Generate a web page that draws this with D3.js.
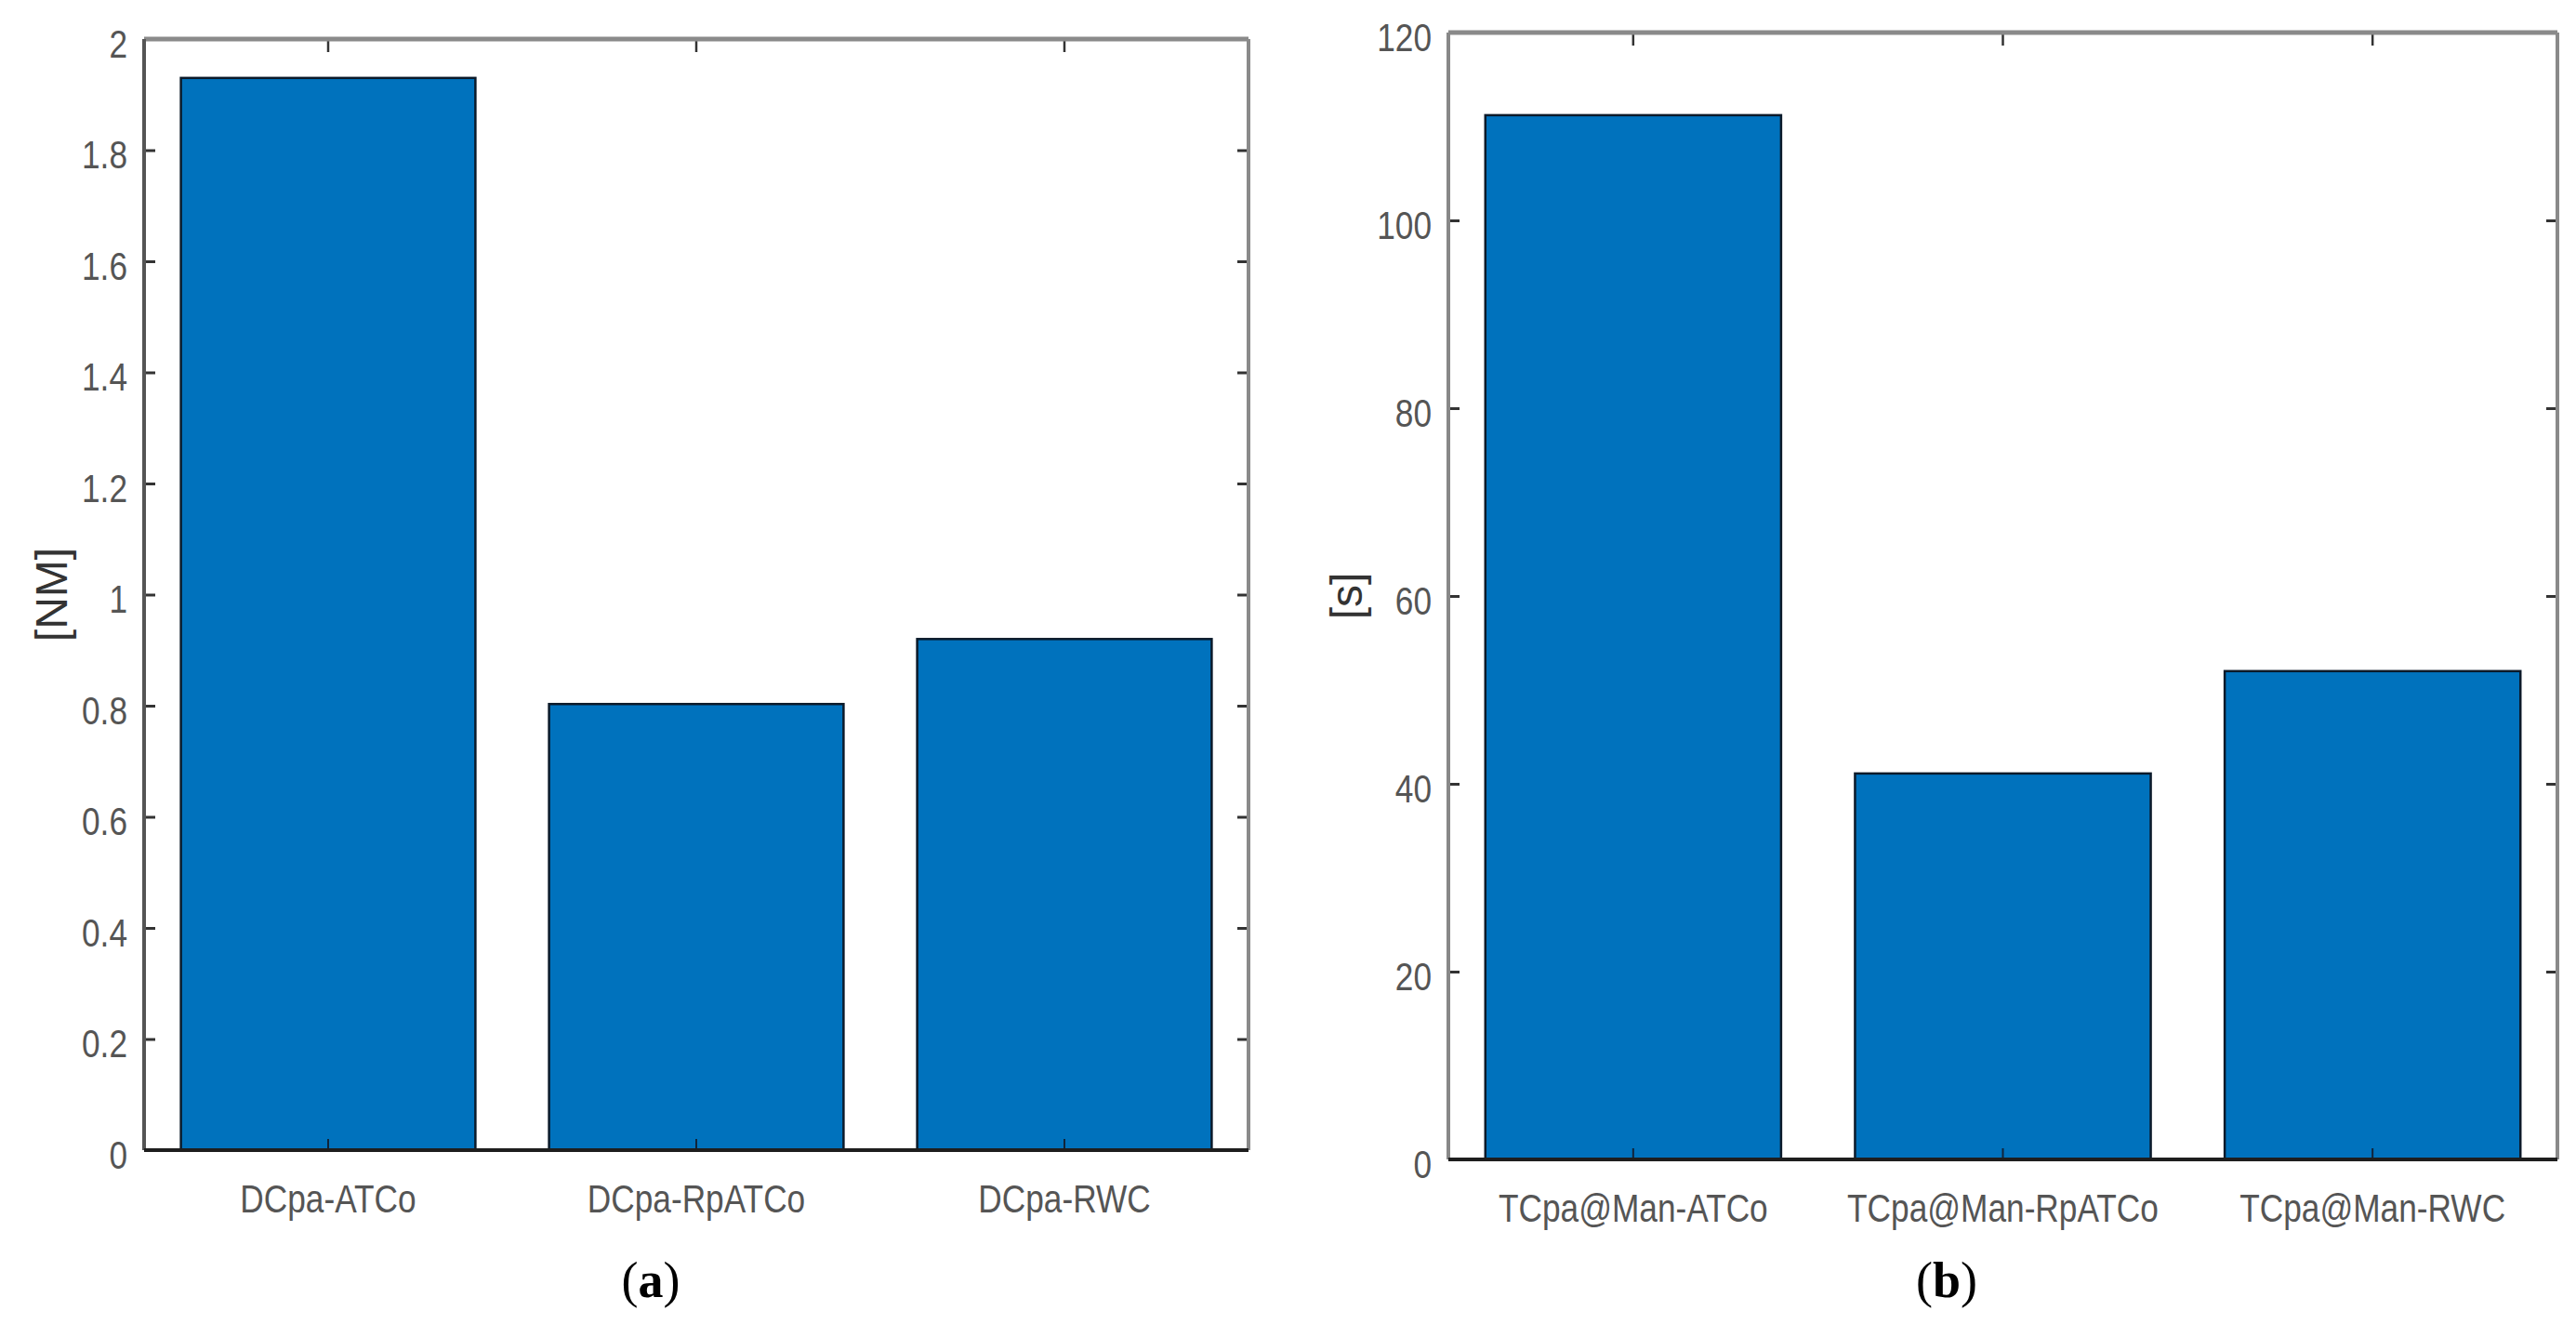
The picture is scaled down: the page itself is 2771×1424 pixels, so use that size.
<!DOCTYPE html>
<html>
<head>
<meta charset="utf-8">
<script src="https://cdn.jsdelivr.net/npm/d3@7"></script>
<style>
  body { margin: 0; background: #fff; }
  svg { display: block; }
  .tick text { font-family: "Liberation Sans", Arial, sans-serif; font-size: 43px; fill: #555; }
  .ylabel { font-family: "Liberation Sans", Arial, sans-serif; font-size: 48px; fill: #333; }
  .caption { font-family: "Liberation Serif", "Times New Roman", serif; font-size: 54px; fill: #000; }
</style>
</head>
<body>
<svg id="chart" width="2771" height="1424"></svg>
<script>
// panel (a): closest distance at CPA
var catsA = ["DCpa-ATCo", "DCpa-RpATCo", "DCpa-RWC"];
var valsA = [1.93, 0.803, 0.92];
var ticksA = [0, 0.2, 0.4, 0.6, 0.8, 1, 1.2, 1.4, 1.6, 1.8, 2];
var tickLabelsA = ["0", "0.2", "0.4", "0.6", "0.8", "1", "1.2", "1.4", "1.6", "1.8", "2"];

// panel (b): time to CPA at manoeuvre
var catsB = ["TCpa@Man-ATCo", "TCpa@Man-RpATCo", "TCpa@Man-RWC"];
var valsB = [111.2, 41.1, 52];
var ticksB = [0, 20, 40, 60, 80, 100, 120];
var tickLabelsB = ["0", "20", "40", "60", "80", "100", "120"];

var barColor = "#0072BD";
var squeeze = 0.82;   // no narrow font installed, squash the regular one
const svg = d3.select("#chart");

function drawPanel(cfg) {
    let g = svg.append("g").attr("class", "panel");

    let x = d3.scaleBand()
        .domain(cfg.cats)
        .range([cfg.x0, cfg.x1])
        .paddingInner(0.2)
        .paddingOuter(0.1);

    let y = d3.scaleLinear()
        .domain([0, cfg.ticks[cfg.ticks.length - 1]])
        .range([cfg.bottom, cfg.top]);

    let data = cfg.cats.map((c, i) => ({ name: c, value: cfg.vals[i] }));

    g.selectAll("rect.bar")
        .data(data)
        .enter()
        .append("rect")
        .attr("class", "bar")
        .attr("x", d => x(d.name))
        .attr("width", x.bandwidth())
        .attr("y", d => y(d.value))
        .attr("height", d => y(0) - y(d.value))
        .attr("fill", barColor)
        .attr("stroke", "#0b1a2a")
        .attr("stroke-width", 2.5);

    // left axis with inward ticks
    let left = d3.axisLeft(y)
        .tickValues(cfg.ticks)
        .tickFormat((d, i) => cfg.tickLabels[i])
        .tickSizeInner(-12)
        .tickSizeOuter(0)
        .tickPadding(18);
    let gl = g.append("g").attr("transform", "translate(" + cfg.x0 + ",0)").call(left);
    gl.select(".domain").remove();
    gl.selectAll(".tick line").attr("stroke", "#333").attr("stroke-width", 3);
    gl.selectAll(".tick text")
        .attr("dy", "0.45em")
        .attr("x", -18 / squeeze)
        .attr("transform", "scale(" + squeeze + ",1)");

    // right axis, ticks only
    let right = d3.axisRight(y)
        .tickValues(cfg.ticks)
        .tickFormat("")
        .tickSizeInner(-12)
        .tickSizeOuter(0);
    let gr = g.append("g").attr("transform", "translate(" + cfg.x1 + ",0)").call(right);
    gr.select(".domain").remove();
    gr.selectAll(".tick line").attr("stroke", "#333").attr("stroke-width", 3);

    // top axis, ticks only
    let top = d3.axisTop(x)
        .tickFormat("")
        .tickSizeInner(-14)
        .tickSizeOuter(0);
    let gt = g.append("g").attr("transform", "translate(0," + cfg.top + ")").call(top);
    gt.select(".domain").remove();
    gt.selectAll(".tick line").attr("stroke", "#333").attr("stroke-width", 2.5);

    // bottom axis with category labels
    let bottom = d3.axisBottom(x)
        .tickSizeInner(-12)
        .tickSizeOuter(0)
        .tickPadding(36);
    let gb = g.append("g").attr("transform", "translate(0," + cfg.bottom + ")").call(bottom);
    gb.select(".domain").remove();
    gb.selectAll(".tick line").attr("stroke", "#10243a").attr("stroke-width", 2);
    gb.selectAll(".tick text").attr("transform", "scale(" + squeeze + ",1)");

    // box
    g.append("line").attr("x1", cfg.x0).attr("x2", cfg.x1).attr("y1", cfg.top).attr("y2", cfg.top)
        .attr("stroke", "#8a8a8a").attr("stroke-width", 5);
    g.append("line").attr("x1", cfg.x1).attr("x2", cfg.x1).attr("y1", cfg.top).attr("y2", cfg.bottom)
        .attr("stroke", "#8a8a8a").attr("stroke-width", 4);
    g.append("line").attr("x1", cfg.x0).attr("x2", cfg.x0).attr("y1", cfg.top).attr("y2", cfg.bottom)
        .attr("stroke", cfg.leftColor).attr("stroke-width", 4);
    g.append("line").attr("x1", cfg.x0).attr("x2", cfg.x1).attr("y1", cfg.bottom).attr("y2", cfg.bottom)
        .attr("stroke", "#1e1e1e").attr("stroke-width", 4);

    // y label
    g.append("text")
        .attr("class", "ylabel")
        .attr("text-anchor", "middle")
        .attr("transform", "translate(" + (cfg.x0 - cfg.labelOffset) + "," + ((cfg.top + cfg.bottom) / 2) + ") rotate(-90)")
        .attr("dy", "0.35em")
        .text(cfg.ylabel);

    // caption
    let cap = g.append("text")
        .attr("class", "caption")
        .attr("text-anchor", "middle")
        .attr("x", cfg.capX)
        .attr("y", 1395);
    cap.append("tspan").text("(");
    cap.append("tspan").attr("font-weight", "bold").text(cfg.caption);
    cap.append("tspan").text(")");
}

drawPanel({
    cats: catsA, vals: valsA, ticks: ticksA, tickLabels: tickLabelsA,
    x0: 155, x1: 1343, top: 42, bottom: 1237,
    ylabel: "[NM]", labelOffset: 100, leftColor: "#555",
    caption: "a", capX: 700
});

drawPanel({
    cats: catsB, vals: valsB, ticks: ticksB, tickLabels: tickLabelsB,
    x0: 1558, x1: 2751, top: 35, bottom: 1247,
    ylabel: "[s]", labelOffset: 110, leftColor: "#888",
    caption: "b", capX: 2094
});
</script>
</body>
</html>
